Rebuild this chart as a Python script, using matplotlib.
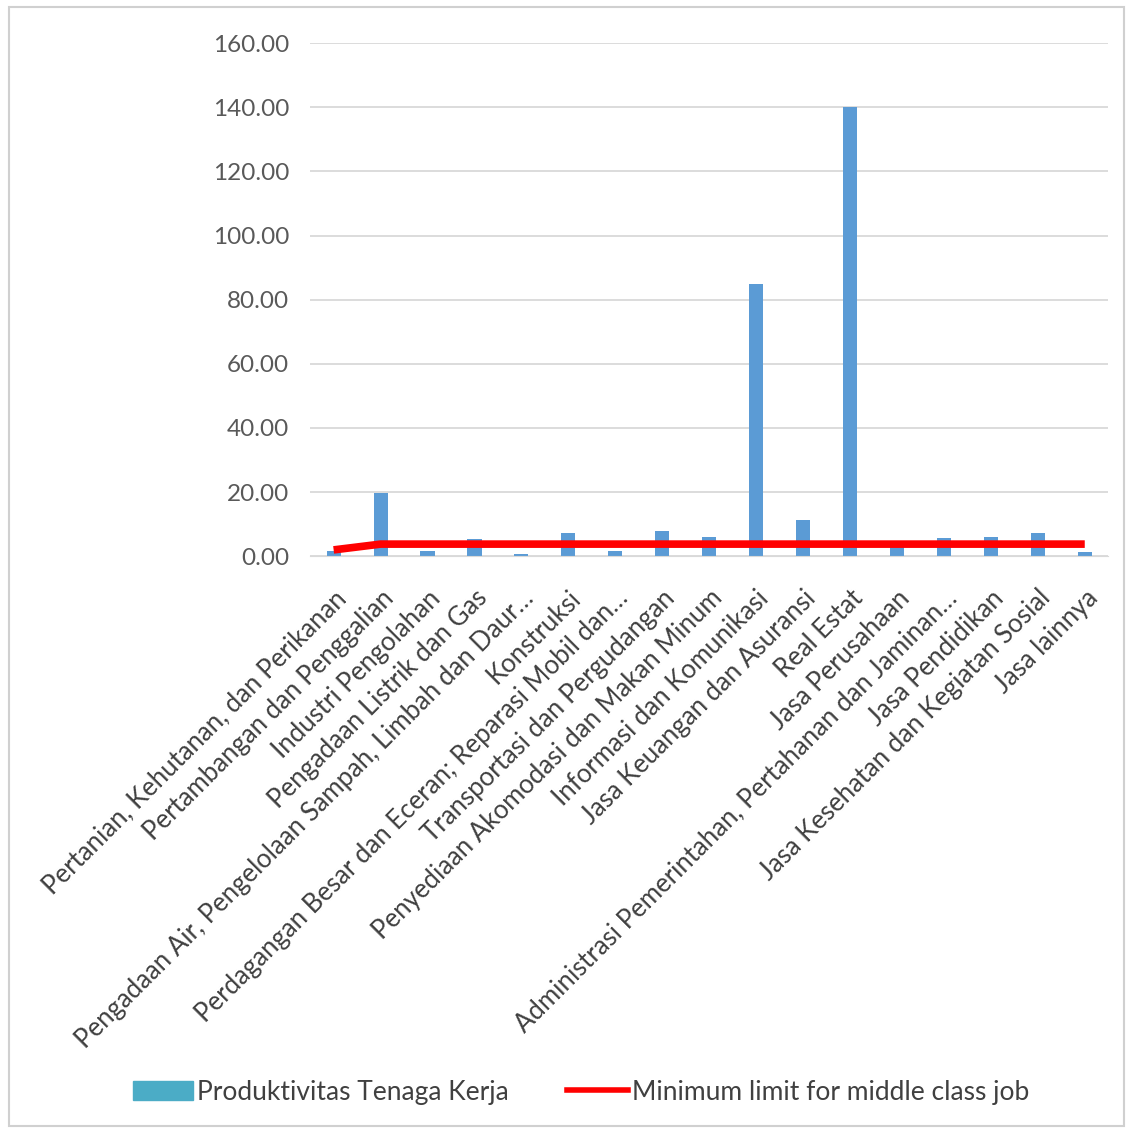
import matplotlib.pyplot as plt
import matplotlib.patches as mpatches
from matplotlib.lines import Line2D
import numpy as np

plt.rcParams["font.family"] = ["Lato", "DejaVu Sans"]

categories = [
    "Pertanian, Kehutanan, dan Perikanan",
    "Pertambangan dan Penggalian",
    "Industri Pengolahan",
    "Pengadaan Listrik dan Gas",
    "Pengadaan Air, Pengelolaan Sampah, Limbah dan Daur…",
    "Konstruksi",
    "Perdagangan Besar dan Eceran; Reparasi Mobil dan…",
    "Transportasi dan Pergudangan",
    "Penyediaan Akomodasi dan Makan Minum",
    "Informasi dan Komunikasi",
    "Jasa Keuangan dan Asuransi",
    "Real Estat",
    "Jasa Perusahaan",
    "Administrasi Pemerintahan, Pertahanan dan Jaminan…",
    "Jasa Pendidikan",
    "Jasa Kesehatan dan Kegiatan Sosial",
    "Jasa lainnya",
]
produktivitas = [1.5, 19.6, 1.5, 5.4, 0.8, 7.4, 1.8, 8.0, 6.0,
                 85.0, 11.4, 140.0, 3.2, 5.6, 6.0, 7.4, 1.2]
batas_minimum = [2.0] + [3.8] * 16
yticks = np.arange(0, 161, 20)

fig = plt.figure(figsize=(11.32, 11.33), dpi=100)
ax = fig.add_axes([0.274, 0.509, 0.705, 0.453])

x = np.arange(len(categories))
ax.bar(x, produktivitas, width=0.3, color="#5B9BD5", zorder=2)
ax.plot(x, batas_minimum, color="#FF0000", linewidth=5.5, zorder=3,
        solid_capstyle="butt")

ax.set_xlim(-0.5, len(categories) - 0.5)
ax.set_ylim(0, 160)
ax.set_yticks(yticks)
ax.set_yticklabels([f"{v:.2f}" for v in yticks], fontsize=17.5, color="#595959")
ax.set_xticks(x)
ax.set_xticklabels(categories, rotation=45, ha="right",
                   rotation_mode="anchor", fontsize=18.5, color="#404040")
ax.tick_params(axis="both", length=0)
ax.tick_params(axis="y", pad=15)
ax.tick_params(axis="x", pad=21)
ax.grid(axis="y", color="#d9d9d9", linewidth=1.3, zorder=0)
for side in ["top", "right", "left"]:
    ax.spines[side].set_visible(False)
ax.spines["bottom"].set_color("#d9d9d9")

# legenda di bawah
handles = [
    mpatches.Patch(color="#4BACC6"),
    Line2D([0], [0], color="#FF0000", linewidth=4),
]
labels = ["Produktivitas Tenaga Kerja", "Minimum limit for middle class job"]
fig.legend(handles, labels, loc="center", bbox_to_anchor=(0.513, 0.036),
           ncol=2, frameon=False, fontsize=19, handlelength=2.3,
           handletextpad=0.15, columnspacing=2.2, labelcolor="#404040")

# bingkai area grafik
fig.add_artist(mpatches.Rectangle((0.008, 0.006), 0.985, 0.988,
                                  transform=fig.transFigure, fill=False,
                                  edgecolor="#d0d0d0", linewidth=1.5))

fig.savefig("out.png", dpi=100)
